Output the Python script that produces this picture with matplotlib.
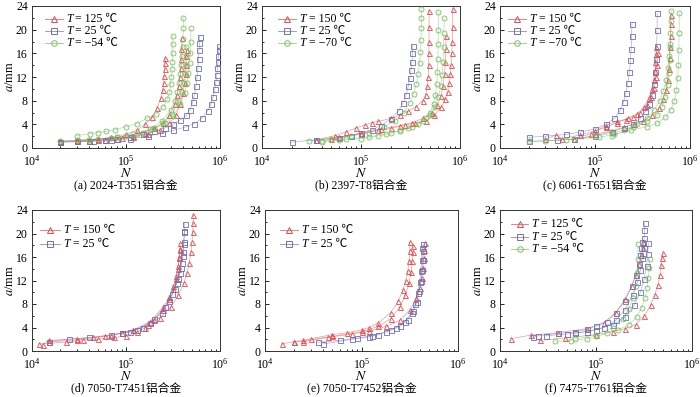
import numpy as np
import matplotlib
matplotlib.use("Agg")
import matplotlib.pyplot as plt
from matplotlib.ticker import MultipleLocator, LogLocator, NullFormatter

plt.rcParams['font.family'] = ['Liberation Serif', 'Noto Sans CJK SC']
plt.rcParams['mathtext.fontset'] = 'stix'

# crack length a (mm) vs cycles N (N given in thousands of cycles)

# (a) 2024-T351
A_RED_N = [[20, 30, 50, 70, 100, 130, 160, 190, 215, 235, 245, 251, 255, 258, 260, 261],
           [20, 40, 60, 90, 120, 160, 200, 250, 290, 330, 350, 365, 375, 382, 386, 389, 391],
           [30, 50, 80, 120, 170, 230, 290, 340, 380, 405, 420, 430, 436, 440, 442]]
A_RED_A = [[1.2, 1.3, 1.5, 1.8, 2.3, 3.0, 4.0, 5.2, 6.8, 8.5, 9.8, 11, 12.2, 13.3, 14.3, 15.2],
           [1.1, 1.2, 1.4, 1.7, 2.1, 2.6, 3.3, 4.3, 5.6, 7.5, 9, 10.5, 12, 13.5, 15, 16.8, 18.6],
           [1.2, 1.3, 1.5, 1.9, 2.4, 3.1, 4.2, 5.5, 7.5, 9.3, 11, 12.5, 14, 15.5, 16.5]]
A_BLUE_N = [[20, 30, 45, 60, 80, 110, 150, 200, 260, 320, 380, 440, 480, 510, 535, 555, 570, 582, 591, 598, 603, 606],
            [20, 40, 70, 110, 170, 240, 320, 420, 530, 640, 740, 800, 845, 880, 905, 925, 940, 952, 962, 970, 976]]
A_BLUE_A = [[1.0, 1.1, 1.2, 1.4, 1.6, 1.9, 2.3, 2.8, 3.4, 4.0, 4.8, 5.5, 6.5, 7.7, 9, 10.5, 12, 13.5, 15, 16.5, 17.7, 18.8],
            [1.0, 1.1, 1.3, 1.6, 2.0, 2.5, 3.0, 3.5, 4.1, 5.0, 6.3, 7.5, 8.7, 10, 11.2, 12.4, 13.5, 14.6, 15.6, 16.5, 17.2]]
A_GREEN_N = [[30, 41, 50, 62, 77, 100, 130, 166, 210, 250, 275, 290, 298, 304, 308, 311, 313, 314, 315],
             [30, 50, 80, 120, 180, 240, 300, 330, 350, 366, 378, 388, 395, 400, 404, 406, 408],
             [20, 40, 70, 100, 150, 200, 260, 320, 380, 420, 445, 462, 474, 482, 487, 490],
             [40, 80, 130, 190, 250, 310, 360, 390, 410, 422, 430, 434, 436]]
A_GREEN_A = [[2.1, 2.4, 2.6, 2.8, 3.1, 3.6, 4.1, 5.0, 5.8, 7.0, 8.2, 9.5, 10.8, 12, 13.3, 14.6, 16, 17.5, 19],
             [1.3, 1.5, 1.8, 2.3, 3.2, 4.5, 6.5, 8, 9.5, 11, 12.5, 14, 15.5, 17, 18.5, 20.2, 22],
             [1.1, 1.4, 1.7, 2.0, 2.6, 3.3, 4.2, 5.4, 7.5, 9.3, 11, 12.6, 14.3, 16, 18, 20.2],
             [1.4, 1.8, 2.4, 3.2, 4.2, 5.8, 7.8, 9.5, 11, 12.5, 14, 15.5, 17]]

# (b) 2397-T8
B_RED_N = [[35, 55, 70, 90, 110, 130, 150, 200, 250, 300, 360, 420, 450, 468, 477, 482, 485, 486, 487, 487],
           [35, 60, 100, 150, 200, 280, 350, 450, 550, 650, 710, 750, 780, 800, 815, 827, 836, 842, 846],
           [50, 100, 160, 250, 330, 420, 520, 590, 640, 675, 698, 712, 720, 724]]
B_RED_A = [[1.4, 2.1, 2.7, 3.4, 3.9, 4.3, 4.5, 5.0, 5.6, 6.2, 7.0, 8.0, 9, 10.5, 12, 14, 16, 18, 20.5, 23.2],
           [1.3, 1.8, 2.4, 3.0, 3.3, 3.9, 4.2, 4.6, 5.5, 7.0, 8.2, 9.5, 11, 12.5, 14, 16, 18, 20.5, 23.5],
           [1.6, 2.5, 3.2, 3.8, 4.3, 5.0, 6.0, 7.2, 8.8, 10.5, 12.5, 14.5, 16.8, 19]]
B_BLUE_N = [[20, 35, 60, 80, 100, 130, 160, 200, 240, 265, 285, 300, 312, 321, 327, 331, 333]]
B_BLUE_A = [[1.0, 1.4, 1.7, 2.1, 2.6, 3.1, 3.8, 4.9, 6.3, 7.6, 9, 10.4, 11.8, 13.2, 14.6, 16, 17.3]]
B_GREEN_N = [[30, 50, 80, 120, 170, 220, 270, 310, 340, 362, 378, 390, 398, 403, 406, 407, 408],
             [40, 60, 100, 150, 200, 250, 300, 380, 450, 500, 540, 565, 582, 592, 598, 601, 603, 604],
             [40, 70, 120, 180, 250, 330, 420, 500, 560, 605, 638, 660, 674, 683, 688, 691]]
B_GREEN_A = [[1.2, 1.5, 2.0, 2.6, 3.5, 4.6, 6.0, 7.6, 9.2, 10.8, 12.5, 14.3, 16.2, 18.2, 20.2, 22, 23.5],
             [1.0, 1.3, 1.6, 2.0, 2.5, 2.9, 3.3, 4.0, 5.0, 6.0, 7.5, 9, 10.8, 12.8, 15, 17.5, 20, 23],
             [1.2, 1.5, 1.9, 2.4, 3.0, 3.6, 4.5, 5.6, 7, 8.6, 10.4, 12.4, 14.6, 17, 19.5, 22]]

# (c) 6061-T651
C_RED_N = [[30, 39, 45, 70, 100, 130, 170, 220, 280, 330, 370, 395, 413, 425, 433, 438, 441],
           [100, 150, 200, 260, 320, 400, 470, 520, 555, 580, 598, 610, 619, 625, 629, 631],
           [60, 90, 130, 170, 210, 250, 300, 350, 390, 420, 440, 453, 460]]
C_RED_A = [[1.5, 2.2, 1.6, 2.2, 2.9, 3.5, 4.3, 5.0, 5.8, 7.0, 8.5, 10, 11.5, 13, 14.5, 15.9, 17.1],
           [2.3, 2.9, 3.5, 4.0, 4.6, 5.5, 6.8, 8.2, 9.8, 11.5, 13.3, 15.2, 17, 19, 21, 22.5],
           [1.5, 2.4, 3.8, 4.5, 4.8, 5.2, 6.0, 7.2, 8.6, 10.2, 12, 14, 16]]
C_BLUE_N = [[20, 30, 50, 70, 100, 130, 160, 185, 200, 212, 222, 230, 236, 240, 243, 245],
            [20, 40, 60, 100, 150, 200, 250, 300, 340, 370, 395, 415, 430, 440, 446, 450, 452]]
C_BLUE_A = [[1.8, 2.0, 2.3, 2.7, 3.2, 4.0, 5.0, 6.4, 7.8, 9.3, 11, 12.8, 14.8, 16.8, 19, 21],
            [1.1, 1.3, 1.5, 2.1, 2.7, 3.4, 4.1, 5.0, 6.2, 7.5, 9, 10.8, 12.8, 15, 17.3, 20, 22.8]]
C_GREEN_N = [[20, 50, 100, 150, 200, 280, 350, 420, 480, 525, 560, 585, 603, 615, 623, 628, 631],
             [30, 60, 110, 160, 240, 350, 450, 550, 630, 685, 720, 742, 755, 763, 768, 771],
             [150, 250, 350, 450, 510, 550, 580, 598, 610, 617]]
C_GREEN_A = [[1.1, 1.4, 2.0, 2.5, 3.0, 4.0, 5.0, 6.5, 8.0, 9.7, 11.5, 13.5, 15.5, 17.5, 19.5, 21.5, 23.2],
             [1.2, 1.5, 1.8, 2.3, 3.0, 3.6, 4.2, 5.2, 6.5, 8, 9.8, 11.8, 14, 16.5, 19.5, 22.8],
             [2.0, 3.5, 4.5, 5.5, 7, 8.7, 10.6, 12.6, 14.8, 17]]

# (d) 7050-T7451
D_RED_N = [[12, 23, 35, 50, 75, 100, 130, 160, 200, 250, 290, 320, 342, 357, 368, 374, 377],
           [13, 15, 30, 45, 60, 90, 120, 170, 230, 300, 360, 410, 445, 472, 490, 503, 512, 518, 521],
           [15, 30, 70, 120, 180, 250, 290, 320, 342, 358, 368, 373]]
D_RED_A = [[1.2, 1.5, 1.9, 2.0, 2.3, 2.6, 3.2, 4.0, 5.2, 7.0, 8.8, 10.5, 12.2, 14, 15.8, 17.2, 18.3],
           [1.1, 1.8, 2.1, 2.3, 2.6, 3.1, 3.5, 4.5, 5.7, 7.5, 9.5, 11.5, 13.2, 15, 16.8, 18.5, 20.2, 21.8, 23.2],
           [1.5, 1.9, 2.6, 3.6, 5.0, 7.5, 9.2, 11, 12.8, 14.5, 16, 17.3]]
D_BLUE_N = [[15, 25, 40, 70, 90, 110, 150, 200, 260, 310, 345, 372, 390, 403, 412, 418, 422],
            [90, 130, 180, 240, 290, 330, 360, 383, 400, 411, 418]]
D_BLUE_A = [[1.6, 2.0, 2.3, 2.7, 3.0, 3.2, 4.0, 5.5, 7.5, 9.7, 11.5, 13.3, 15, 16.8, 18.5, 20.2, 21.7],
            [3.0, 3.6, 4.8, 6.5, 8.5, 10.5, 12.3, 14.2, 16.2, 18.2, 20.5]]

# (e) 7050-T7452
E_RED_N = [[15, 20, 25, 30, 50, 70, 100, 120, 150, 200, 240, 268, 288, 302, 311, 316, 318],
           [20, 50, 100, 150, 200, 250, 285, 310, 326, 335, 340, 342],
           [25, 45, 80, 120, 180, 250, 320, 370, 400, 420, 433, 442, 447, 450]]
E_RED_A = [[1.2, 1.6, 1.8, 2.1, 2.8, 3.1, 3.6, 4.0, 4.8, 6.5, 8.5, 10.3, 12, 13.7, 15.3, 17, 18.5],
           [1.5, 2.5, 3.3, 4.2, 5.5, 7.5, 9.5, 11.5, 13.5, 15.3, 16.8, 17.8],
           [1.6, 2.3, 2.9, 3.4, 4.2, 5.2, 7.0, 9, 10.8, 12.5, 14.2, 15.8, 17.2, 18.4]]
E_BLUE_N = [[35, 60, 90, 130, 180, 230, 280, 330, 360, 383, 400, 412, 420, 425],
            [40, 80, 120, 150, 200, 250, 300, 345, 375, 397, 413, 423, 429, 432, 434]]
E_BLUE_A = [[1.5, 1.8, 2.2, 2.6, 3.3, 4.0, 5.0, 6.5, 8, 9.8, 11.7, 13.6, 15.5, 17.5],
            [1.2, 2.0, 2.4, 2.8, 3.5, 4.2, 5.3, 6.8, 8.4, 10.2, 12, 13.8, 15.5, 17, 18.2]]

# (f) 7475-T761
F_RED_N = [[13, 21, 40, 80, 120, 160, 200, 235, 262, 282, 297, 307, 312],
           [26, 47, 100, 150, 200, 260, 320, 370, 410, 442, 465, 480, 489, 493]]
F_RED_A = [[2.1, 2.7, 3.1, 3.8, 4.8, 6.5, 8.8, 11, 13, 14.8, 16.3, 17.5, 18.5],
           [1.8, 2.2, 2.8, 3.3, 3.8, 4.5, 6.0, 7.8, 9.6, 11.3, 13, 14.6, 15.8, 16.7]]
F_BLUE_N = [[22, 25, 40, 60, 80, 100, 130, 160, 200, 235, 260, 278, 290, 297, 301],
            [30, 50, 80, 120, 160, 200, 240, 270, 290, 304, 313, 318, 320, 321],
            [60, 100, 150, 200, 250, 290, 318, 336, 346, 351]]
F_BLUE_A = [[2.3, 2.6, 3.0, 3.2, 3.7, 4.2, 5.0, 6.5, 8.5, 11, 13, 14.8, 16.4, 17.6, 18.6],
            [2.6, 2.9, 3.3, 4.0, 5.2, 7.0, 9.5, 11.8, 13.8, 15.8, 17.6, 19.3, 20.6, 21.8],
            [3.0, 3.6, 4.5, 5.8, 7.8, 10, 12.3, 14.5, 16.5, 18.3]]
F_GREEN_N = [[37, 55, 80, 100, 130, 170, 220, 265, 300, 325, 342, 352, 358, 361],
             [60, 100, 150, 190, 220, 243, 258, 267, 272, 275]]
F_GREEN_A = [[1.7, 1.7, 2.1, 2.5, 3.0, 3.6, 4.5, 5.8, 7.4, 9.1, 10.8, 12.5, 14.1, 15.6],
             [2.0, 2.8, 4.0, 5.5, 7.2, 9, 11, 13.2, 15.6, 18.2]]

CAPTIONS = ["(a) 2024-T351铝合金", "(b) 2397-T8铝合金", "(c) 6061-T651铝合金",
            "(d) 7050-T7451铝合金", "(e) 7050-T7452铝合金", "(f) 7475-T761铝合金"]

RED = '#e5484a'
BLUE = '#6b70b8'
GREEN = '#78c262'

W, H = 700, 397


def add_panel(fig, box):
    left, right, top, bottom = box
    return fig.add_axes([left / W, 1 - bottom / H, (right - left) / W, (bottom - top) / H])


def draw_series(ax, Ns, As, color, marker):
    for n, a in zip(Ns, As):
        ax.plot(np.array(n) * 1e3, a, color=color, lw=0.5, alpha=0.55, zorder=2)
        ax.plot(np.array(n) * 1e3, a, ls='none', marker=marker, ms=3.6, mfc='none',
                mec=color, mew=0.6, zorder=3)


def draw_legend(ax, box, entries, pos):
    # hand-made legend so the T can be italic and the ℃ sign can fall back to CJK font
    left, right, top, bottom = box
    w, h = right - left, bottom - top
    x0, x1, xt, y0, dy = pos
    for i, (color, marker, temp) in enumerate(entries):
        y = 1 - (y0 + i * dy) / h
        ax.plot([x0 / w, x1 / w], [y, y], transform=ax.transAxes, color=color,
                lw=0.6, alpha=0.8, clip_on=False)
        ax.plot([(x0 + x1) / 2 / w], [y], transform=ax.transAxes, ls='none',
                marker=marker, ms=4, mfc='none', mec=color, mew=0.7, clip_on=False)
        t = ax.text(xt / w, y, "T", transform=ax.transAxes, fontsize=8.5,
                    family='Liberation Serif', style='italic', va='center', ha='left')
        ax.annotate(" = " + temp + " ℃", xy=(1, 0), xycoords=t, va='bottom', ha='left',
                    fontsize=8.5)


def style_axes(ax):
    ax.set_xscale('log')
    ax.set_xlim(1e4, 1e6)
    ax.set_ylim(0, 24)
    ax.yaxis.set_major_locator(MultipleLocator(4))
    ax.yaxis.set_minor_locator(MultipleLocator(2))
    ax.xaxis.set_major_locator(LogLocator(base=10))
    ax.xaxis.set_minor_locator(LogLocator(base=10, subs=np.arange(2, 10)))
    ax.xaxis.set_minor_formatter(NullFormatter())
    ax.tick_params(which='both', direction='in', labelsize=8.5, width=0.6)
    ax.tick_params(axis='y', which='both', pad=3)
    ax.tick_params(axis='x', which='both', pad=4.5)
    ax.tick_params(which='major', length=3)
    ax.tick_params(which='minor', length=1.6)
    for s in ax.spines.values():
        s.set_linewidth(0.7)
        s.set_color('#333333')
    ax.set_xlabel(r"$\mathit{N}$", fontsize=10, labelpad=-1)
    ax.set_ylabel(r"$\mathit{a}$/mm", fontsize=9, labelpad=0)


def main():
    fig = plt.figure(figsize=(7.0, 3.97), dpi=100)

    boxes = [(32, 220, 6, 148), (262, 460, 6, 148), (500, 690, 6, 148),
             (32, 220, 210, 351), (265, 458, 210, 351), (500, 692, 210, 351)]
    # legend placement in pixels from the axes top-left: line start, line end, text x, first row, row step
    legend_pos = [(13, 31, 34, 13, 12), (16, 34, 37, 13, 12), (8, 26, 29, 13, 12),
                  (8, 28, 31, 20, 14), (15, 33, 36, 20, 14), (11, 28, 31, 14, 12.5)]

    panels = [
        [(A_RED_N, A_RED_A, RED, '^', "125"), (A_BLUE_N, A_BLUE_A, BLUE, 's', "25"),
         (A_GREEN_N, A_GREEN_A, GREEN, 'o', "\u221254")],
        [(B_RED_N, B_RED_A, RED, '^', "150"), (B_BLUE_N, B_BLUE_A, BLUE, 's', "25"),
         (B_GREEN_N, B_GREEN_A, GREEN, 'o', "\u221270")],
        [(C_RED_N, C_RED_A, RED, '^', "150"), (C_BLUE_N, C_BLUE_A, BLUE, 's', "25"),
         (C_GREEN_N, C_GREEN_A, GREEN, 'o', "\u221270")],
        [(D_RED_N, D_RED_A, RED, '^', "150"), (D_BLUE_N, D_BLUE_A, BLUE, 's', "25")],
        [(E_RED_N, E_RED_A, RED, '^', "150"), (E_BLUE_N, E_BLUE_A, BLUE, 's', "25")],
        [(F_RED_N, F_RED_A, RED, '^', "125"), (F_BLUE_N, F_BLUE_A, BLUE, 's', "25"),
         (F_GREEN_N, F_GREEN_A, GREEN, 'o', "\u221254")],
    ]

    for box, series, cap, lpos in zip(boxes, panels, CAPTIONS, legend_pos):
        ax = add_panel(fig, box)
        for Ns, As, color, marker, temp in series:
            draw_series(ax, Ns, As, color, marker)
        style_axes(ax)
        draw_legend(ax, box, [(c, m, t) for _, _, c, m, t in series], lpos)
        cx = (box[0] + box[1]) / 2 / W
        cy = 1 - (186 if box[2] < 100 else 389) / H
        fig.text(cx, cy, cap, ha='center', va='center', fontsize=8.5)

    fig.savefig("out.png", dpi=100)


if __name__ == "__main__":
    main()
